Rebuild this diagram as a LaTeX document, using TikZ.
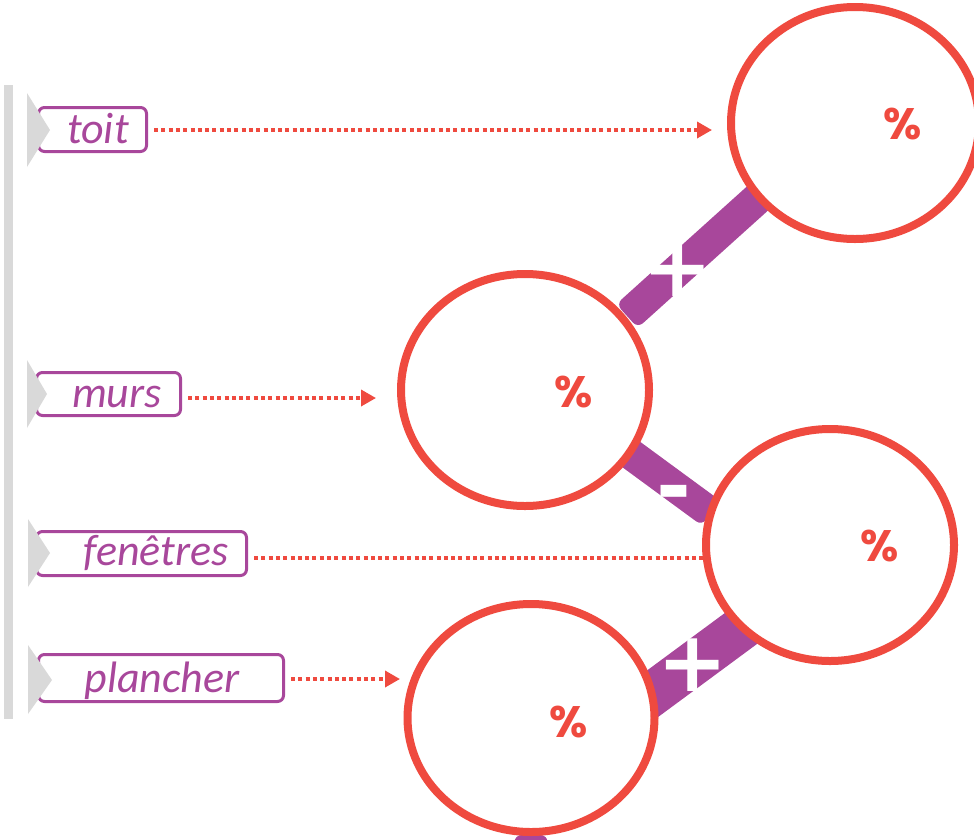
\documentclass[tikz,border=0pt]{standalone}
\usepackage{fontspec}
\usetikzlibrary{arrows.meta,shapes.geometric,calc}
\newfontfamily\labelfont{Carlito}
\newfontfamily\pctfont{Poppins}
\newfontfamily\signfont{DejaVu Sans}
\definecolor{pred}{RGB}{239,74,63}
\definecolor{ppur}{RGB}{168,71,155}
\definecolor{pgray}{RGB}{217,217,217}
\newcommand\drawbar[3]{\fill[ppur, rounded corners=7pt] (#1) -- ($(#1)!#3!90:(#2)$) -- ($(#2)!#3!-90:(#1)$) -- ($(#2)!#3!90:(#1)$) -- ($(#1)!#3!-90:(#2)$) -- cycle;}
\tikzset{
 ring/.style={ellipse, draw=pred, line width=8pt, fill=white, minimum width=248pt, minimum height=232pt, inner sep=0pt},
 pct/.style={text=pred, font=\pctfont\bfseries\fontsize{44}{44}\selectfont, inner sep=0pt},
 sign/.style={text=white, font=\signfont\bfseries\fontsize{84}{84}\selectfont, inner sep=0pt, anchor=base},
 lbox/.style={draw=ppur, line width=3pt, rounded corners=6pt, inner sep=0pt},
 ltext/.style={text=ppur, font=\labelfont\itshape\fontsize{44}{44}\selectfont, inner sep=0pt, anchor=base},
 dotline/.style={draw=pred, line width=3.5pt, dash pattern=on 4pt off 3.3pt},
 dotarrow/.style={dotline, -{Triangle[length=15pt,width=16pt]}},
 tri/.style={fill=pgray},
}
\begin{document}
\begin{tikzpicture}[x=1pt,y=-1pt]
\useasboundingbox (0,0) rectangle (974,839);
\clip (0,0) rectangle (974,839);
% left gray bar
\fill[pgray] (4,85) rectangle (12.5,719);
% label boxes
\node[lbox, minimum width=108pt, minimum height=44pt] (toitbox) at (92.5,129.5) {};
\node[lbox, minimum width=144pt, minimum height=43pt] (mursbox) at (108.5,394) {};
\node[lbox, minimum width=210pt, minimum height=44pt] (fenbox) at (141.5,553.5) {};
\node[lbox, minimum width=245pt, minimum height=47pt] (planbox) at (161,678) {};
\fill[tri] (27,93) -- (50,130) -- (27,167) -- cycle;
\fill[tri] (27,360) -- (47,394) -- (27,428) -- cycle;
\fill[tri] (28,519) -- (50,553) -- (28,587) -- cycle;
\fill[tri] (28,645) -- (52,680) -- (28,714) -- cycle;
\node[ltext] (toittext) at (98,143) {toit};
\node[ltext] (murstext) at (117,407) {murs};
\node[ltext] (fentext) at (156,565) {fenêtres};
\node[ltext] (plantext) at (162,692) {plancher};
% dotted connectors
\coordinate (toitend) at (712,130);
\coordinate (mursend) at (376,398);
\coordinate (fenend) at (706,558);
\coordinate (planend) at (400,679);
\draw[dotarrow, shorten <=6pt] (toitbox.east |- toitend) -- (toitend);
\draw[dotarrow, shorten <=6pt] (mursbox.east |- mursend) -- (mursend);
\draw[dotline, shorten <=6pt] (fenbox.east |- fenend) -- (fenend);
\draw[dotarrow, shorten <=6pt] (planbox.east |- planend) -- (planend);
% purple connector bars
\coordinate (b1a) at (627,316); \coordinate (b1b) at (768,189);
\coordinate (b2a) at (606,436); \coordinate (b2b) at (711,513);
\coordinate (b3a) at (640,703); \coordinate (b3b) at (789,593);
\coordinate (b4a) at (531,835); \coordinate (b4b) at (531,900);
\drawbar{b1a}{b1b}{16pt}
\drawbar{b2a}{b2b}{15.5pt}
\drawbar{b3a}{b3b}{22pt}
\drawbar{b4a}{b4b}{16.5pt}
% rings
\node[ring] (ct) at (855,123) {};
\node[ring] (cm) at (525,390) {};
\node[ring] (cr) at (830,545) {};
\node[ring, minimum width=247pt, minimum height=228pt] (cb) at (531,718) {};
% percent labels
\node[pct] (pt) at (903,124) {\%};
\node[pct] (pm) at (574,392) {\%};
\node[pct] (pr) at (880,546) {\%};
\node[pct] (pb) at (569,722) {\%};
% signs
\node[sign] (s1) at (678,296) {+};
\node[sign] (s2) at (674,515) {-};
\node[sign] (s3) at (693,691) {+};
\end{tikzpicture}
\end{document}
